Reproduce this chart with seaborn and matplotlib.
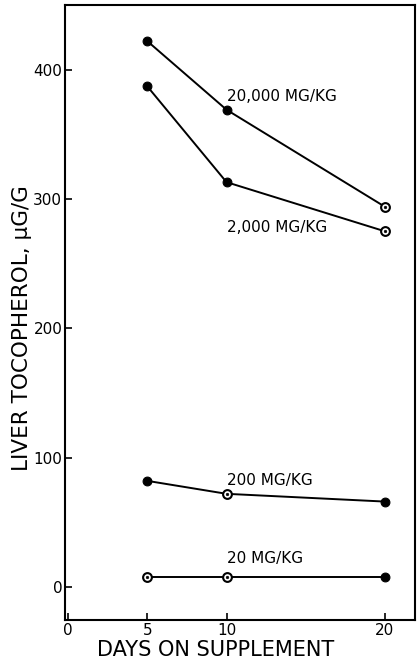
import matplotlib
matplotlib.use("Agg")
import matplotlib.pyplot as plt
import seaborn as sns
import pandas as pd

days = [5, 10, 20]
dose_labels = ["20,000 MG/KG", "2,000 MG/KG", "200 MG/KG", "20 MG/KG"]
tocopherol_20000 = [422, 369, 294]
tocopherol_2000 = [387, 313, 275]
tocopherol_200 = [82, 72, 66]
tocopherol_20 = [8, 8, 8]
# open (hollow) markers per point
hollow_20000 = [False, False, True]
hollow_2000 = [False, False, True]
hollow_200 = [False, True, False]
hollow_20 = [True, True, False]
x_ticks = [0, 5, 10, 20]
y_ticks = [0, 100, 200, 300, 400]
label_pos_y = [379, 278, 82, 22]

series = [tocopherol_20000, tocopherol_2000, tocopherol_200, tocopherol_20]
hollows = [hollow_20000, hollow_2000, hollow_200, hollow_20]

rows = []
for lab, vals, hol in zip(dose_labels, series, hollows):
    for d, v, h in zip(days, vals, hol):
        rows.append({"days": d, "value": v, "dose": lab, "hollow": h})
df = pd.DataFrame(rows)

sns.set_style("ticks")
plt.rcParams["font.family"] = ["DejaVu Sans"]
plt.rcParams["text.color"] = "black"
plt.rcParams["axes.labelcolor"] = "black"

fig = plt.figure(figsize=(4.17, 6.63), dpi=100)
ax = fig.add_axes([0.156, 0.065, 0.839, 0.9275])

sns.lineplot(data=df, x="days", y="value", hue="dose", hue_order=dose_labels,
             palette=["black"] * 4, linewidth=1.4, legend=False, ax=ax, zorder=2)
filled = df[~df["hollow"]]
hollow = df[df["hollow"]]
sns.scatterplot(data=filled, x="days", y="value", color="black", s=40,
                edgecolor="black", linewidth=0.8, legend=False, ax=ax, zorder=3)
sns.scatterplot(data=hollow, x="days", y="value", color="white", s=40,
                edgecolor="black", linewidth=1.5, legend=False, ax=ax, zorder=3)
sns.scatterplot(data=hollow, x="days", y="value", color="black", s=4,
                edgecolor="black", linewidth=0.3, legend=False, ax=ax, zorder=4)

for lab, ly in zip(dose_labels, label_pos_y):
    ax.text(10.0, ly, lab, ha="left", va="center", fontsize=11, color="black")

ax.set_xlim(-0.2, 21.9)
ax.set_ylim(-25.5, 450)
ax.set_xticks(x_ticks)
ax.set_yticks(y_ticks)
ax.tick_params(direction="in", length=5, width=1.2, labelsize=11, colors="black", pad=2)
for sp in ax.spines.values():
    sp.set_visible(True)
    sp.set_linewidth(1.5)
    sp.set_color("black")
ax.set_xlabel("DAYS ON SUPPLEMENT", fontsize=15)
ax.set_ylabel("LIVER TOCOPHEROL, \u00b5G/G", fontsize=15.5)
ax.xaxis.set_label_coords(0.43, -0.049, transform=ax.transAxes)
ax.yaxis.set_label_coords(-0.122, 0.475, transform=ax.transAxes)
ax.xaxis.label.set_va("center")
ax.yaxis.label.set_va("center")

fig.savefig("out.png", dpi=100)
